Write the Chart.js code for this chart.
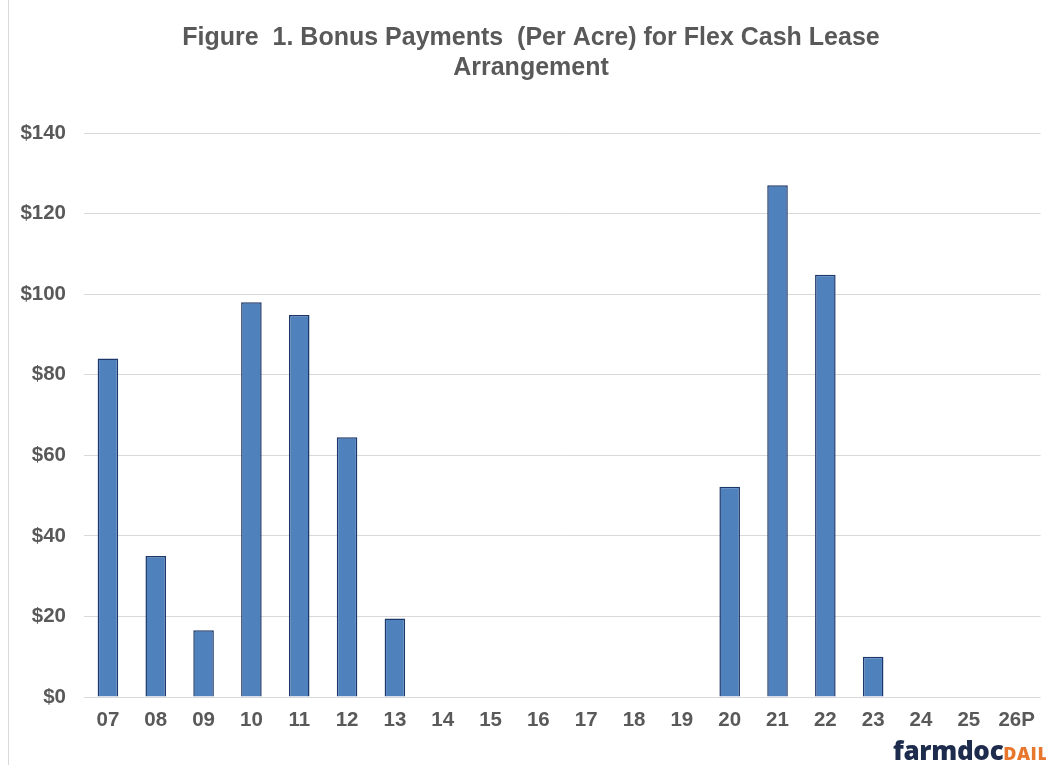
<!DOCTYPE html>
<html>
<head>
<meta charset="utf-8">
<script src="https://cdn.jsdelivr.net/npm/chart.js@4.4.1/dist/chart.umd.min.js"></script>
<style>
  html, body { margin: 0; padding: 0; background: #ffffff; }
  #wrap { position: relative; width: 1046px; height: 765px; overflow: hidden; background: #fff; }
  #edge { position: absolute; left: 8px; top: 0; width: 1px; height: 765px; background: #d9d9d9; }
  #logo { position: absolute; left: 893px; top: 737px; white-space: nowrap; font-family: "Open Sans", sans-serif; font-weight: 800; line-height: 1; }
  #logo .farm { font-size: 26px; color: #1d2b4c; letter-spacing: -0.3px; }
  #logo .daily { font-size: 18px; color: #e8772e; letter-spacing: 0.5px; }
</style>
</head>
<body>
<div id="wrap">
  <canvas id="c" width="1046" height="765"></canvas>
  <div id="edge"></div>
  <div id="logo"><span class="farm">farmdoc</span><span class="daily">DAILY</span></div>
</div>
<script>
const categories = ['07','08','09','10','11','12','13','14','15','16','17','18','19','20','21','22','23','24','25','26P'];
const bonusPayments = [84, 35, 16.6, 98, 94.8, 64.5, 19.5, 0, 0, 0, 0, 0, 0, 52.2, 127, 104.8, 10, 0, 0, 0];
const titleLines = ['Figure  1. Bonus Payments  (Per Acre) for Flex Cash Lease', 'Arrangement'];
const yTickStep = 20;
const yMax = 140;

new Chart(document.getElementById('c'), {
  type: 'bar',
  data: {
    labels: categories,
    datasets: [{
      data: bonusPayments,
      backgroundColor: '#4f81bd',
      borderColor: '#1c3769',
      borderWidth: 1.5,
      categoryPercentage: 1.0,
      barPercentage: 0.43
    }]
  },
  options: {
    responsive: false,
    animation: false,
    layout: { padding: { left: 20, right: 4, top: 0, bottom: 28 } },
    plugins: {
      legend: { display: false },
      tooltip: { enabled: false },
      title: {
        display: true,
        text: titleLines,
        color: '#595959',
        font: { family: 'Liberation Sans, Arial, sans-serif', size: 25, weight: 'bold', lineHeight: 1.2 },
        padding: { top: 23, bottom: 50 }
      }
    },
    scales: {
      x: {
        grid: { display: false, drawTicks: false },
        border: { display: false },
        ticks: {
          color: '#595959',
          padding: 11,
          font: { family: 'Liberation Sans, Arial, sans-serif', size: 20.5, weight: 'bold' }
        },
        afterFit: (s) => { s.height = 40; }
      },
      y: {
        min: 0,
        max: yMax,
        grid: { color: '#d9d9d9', lineWidth: 1, drawTicks: false },
        border: { display: false },
        ticks: {
          stepSize: yTickStep,
          color: '#595959',
          padding: 18,
          font: { family: 'Liberation Sans, Arial, sans-serif', size: 20.5, weight: 'bold' },
          callback: (v) => '$' + v
        },
        afterFit: (s) => { s.width = 64; }
      }
    }
  }
});
</script>
</body>
</html>
